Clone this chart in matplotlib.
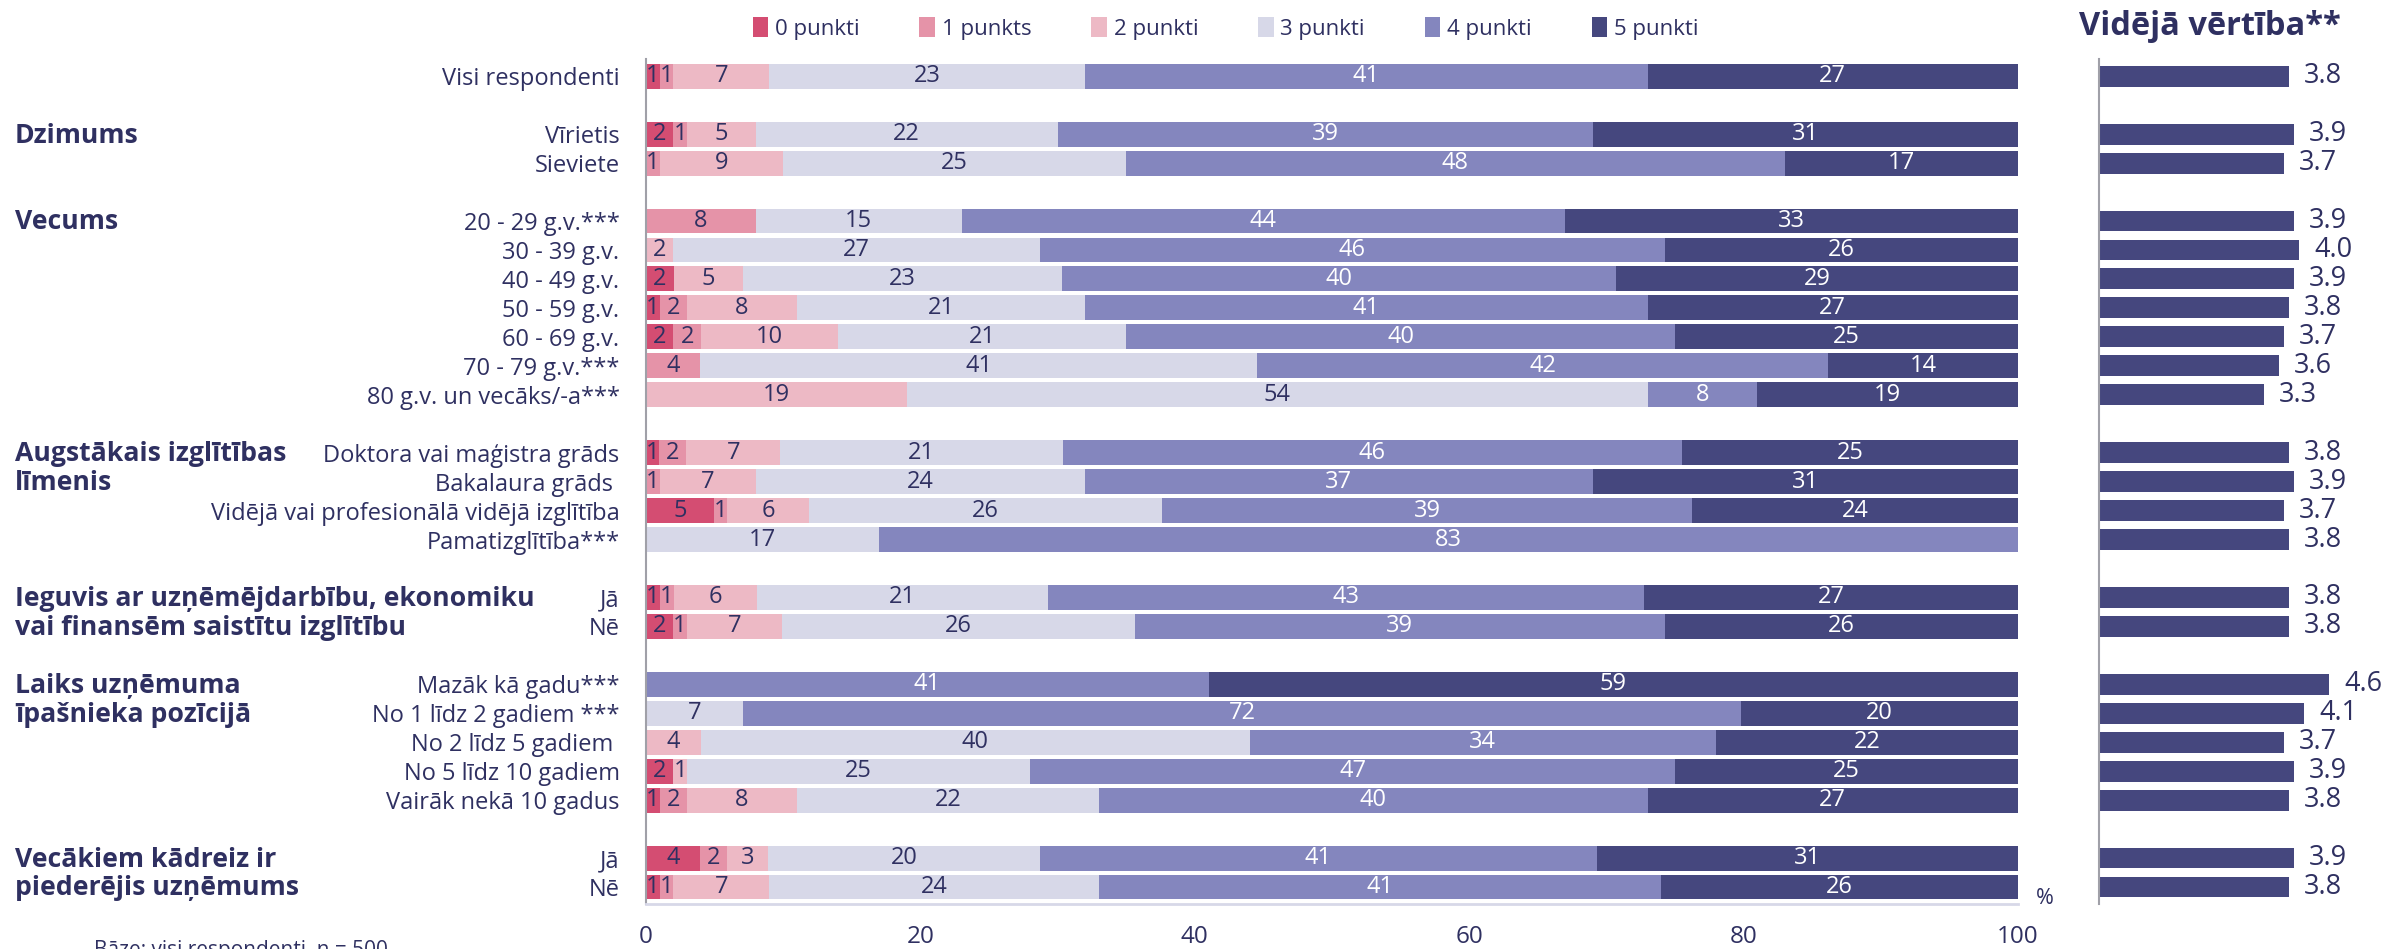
import matplotlib
matplotlib.use("Agg")
import matplotlib.pyplot as plt
from matplotlib.patches import Patch
from matplotlib.transforms import blended_transform_factory
import numpy as np

plt.rcParams['font.family'] = ['Open Sans', 'DejaVu Sans']

# --- data ---
categories = [
    "Visi respondenti",
    "Vīrietis", "Sieviete",
    "20 - 29 g.v.***", "30 - 39 g.v.", "40 - 49 g.v.", "50 - 59 g.v.", "60 - 69 g.v.",
    "70 - 79 g.v.***", "80 g.v. un vecāks/-a***",
    "Doktora vai maģistra grāds", "Bakalaura grāds ", "Vidējā vai profesionālā vidējā izglītība",
    "Pamatizglītība***",
    "Jā", "Nē",
    "Mazāk kā gadu***", "No 1 līdz 2 gadiem ***", "No 2 līdz 5 gadiem ", "No 5 līdz 10 gadiem",
    "Vairāk nekā 10 gadus",
    "Jā", "Nē",
]
group_sizes = [1, 2, 7, 4, 2, 5, 2]
group_titles = [
    [],
    ["Dzimums"],
    ["Vecums"],
    ["Augstākais izglītības", "līmenis"],
    ["Ieguvis ar uzņēmējdarbību, ekonomiku", "vai finansēm saistītu izglītību"],
    ["Laiks uzņēmuma", "īpašnieka pozīcijā"],
    ["Vecākiem kādreiz ir", "piederējis uzņēmums"],
]
series_names = ["0 punkti", "1 punkts", "2 punkti", "3 punkti", "4 punkti", "5 punkti"]

p0 = [1, 2, 0, 0, 0, 2, 1, 2, 0, 0, 1, 0, 5, 0, 1, 2, 0, 0, 0, 2, 1, 4, 1]
p1 = [1, 1, 1, 8, 0, 0, 2, 2, 4, 0, 2, 1, 1, 0, 1, 1, 0, 0, 0, 0, 2, 2, 1]
p2 = [7, 5, 9, 0, 2, 5, 8, 10, 0, 19, 7, 7, 6, 0, 6, 7, 0, 0, 4, 1, 8, 3, 7]
p3 = [23, 22, 25, 15, 27, 23, 21, 21, 41, 54, 21, 24, 26, 17, 21, 26, 0, 7, 40, 25, 22, 20, 24]
p4 = [41, 39, 48, 44, 46, 40, 41, 40, 42, 8, 46, 37, 39, 83, 43, 39, 41, 72, 34, 47, 40, 41, 41]
p5 = [27, 31, 17, 33, 26, 29, 27, 25, 14, 19, 25, 31, 24, 0, 27, 26, 59, 20, 22, 25, 27, 31, 26]

means = [3.8, 3.9, 3.7, 3.9, 4.0, 3.9, 3.8, 3.7, 3.6, 3.3, 3.8, 3.9, 3.7, 3.8,
         3.8, 3.8, 4.6, 4.1, 3.7, 3.9, 3.8, 3.9, 3.8]

colors = ['#D44D72', '#E593A8', '#EDB9C5', '#D7D8E8', '#8486BE', '#45477E']
text_col = '#2F3061'
mean_col = '#45477E'

# row positions: one blank slot between groups
ypos = []
first_rows = []
slot = 0
for g, n in enumerate(group_sizes):
    first_rows.append(slot)
    for i in range(n):
        ypos.append(slot)
        slot += 1
    slot += 1
ypos = np.array(ypos)

data = np.array([p0, p1, p2, p3, p4, p5], dtype=float)
shares = data / data.sum(axis=0) * 100  # rounded values rescaled so each row fills 100 %

fig = plt.figure(figsize=(23.89, 9.49), dpi=100)
ax = fig.add_axes([0.2704, 0.047, 0.5743, 0.891])
ax2 = fig.add_axes([0.8786, 0.047, 0.1214, 0.891])

left = np.zeros(len(categories))
for k in range(6):
    ax.barh(ypos, shares[k], left=left, height=0.86, color=colors[k], edgecolor='none')
    for j in range(len(categories)):
        v = data[k, j]
        if v > 0:
            ax.text(left[j] + shares[k, j] / 2, ypos[j], f"{int(v)}",
                    ha='center', va='center', fontsize=17,
                    color='white' if k >= 4 else text_col)
    left += shares[k]

ax.set_xlim(0, 100)
ax.set_ylim(ypos.max() + 0.6, -0.6)
ax.set_xticks([0, 20, 40, 60, 80, 100])
ax.tick_params(axis='x', length=0, pad=15, labelsize=17.5, labelcolor=text_col)
ax.set_yticks(ypos)
ax.set_yticklabels(categories)
ax.tick_params(axis='y', length=0, pad=19, labelsize=17, labelcolor=text_col)
for s in ['top', 'right']:
    ax.spines[s].set_visible(False)
ax.spines['left'].set_color('#A0A0A8')
ax.spines['left'].set_linewidth(1.5)
ax.spines['bottom'].set_color('#D7D8E8')
ax.spines['bottom'].set_linewidth(2)

# group headings
tr = blended_transform_factory(fig.transFigure, ax.transData)
for g, lines in enumerate(group_titles):
    for i, line in enumerate(lines):
        ax.text(15 / 2389, first_rows[g] + i + 0.05, line, transform=tr, ha='left', va='center',
                fontsize=19.2, fontweight='bold', color=text_col)

# mean panel
ax2.barh(ypos, means, height=0.72, color=mean_col)
for y, m in zip(ypos, means):
    ax2.text(m + 0.3, y, f"{m:.1f}", ha='left', va='center', fontsize=19.5, color=text_col)
ax2.set_xlim(0, 5.8)
ax2.set_ylim(ypos.max() + 0.6, -0.6)
ax2.set_xticks([])
ax2.set_yticks([])
for s in ['top', 'right', 'bottom']:
    ax2.spines[s].set_visible(False)
ax2.spines['left'].set_color('#A0A0A8')
ax2.spines['left'].set_linewidth(1.5)

fig.text(0.925, 0.972, "Vidējā vērtība**", ha='center', va='center', fontsize=23.5,
         fontweight='bold', color=text_col)

handles = [Patch(facecolor=c, edgecolor='none') for c in colors]
fig.legend(handles, series_names, loc='center', bbox_to_anchor=(0.513, 0.970), ncol=6,
           frameon=False, fontsize=16, handlelength=0.7, handleheight=1.0,
           handletextpad=0.3, columnspacing=2.7, labelcolor=text_col)

fig.text(2045 / 2389, 0.053, "%", ha='center', va='center', fontsize=15.5, color=text_col)
fig.text(94 / 2389, 1 - 940 / 949, "Bāze: visi respondenti, n = 500", ha='left', va='top',
         fontsize=15, color=text_col)

fig.savefig("out.png", dpi=100)
